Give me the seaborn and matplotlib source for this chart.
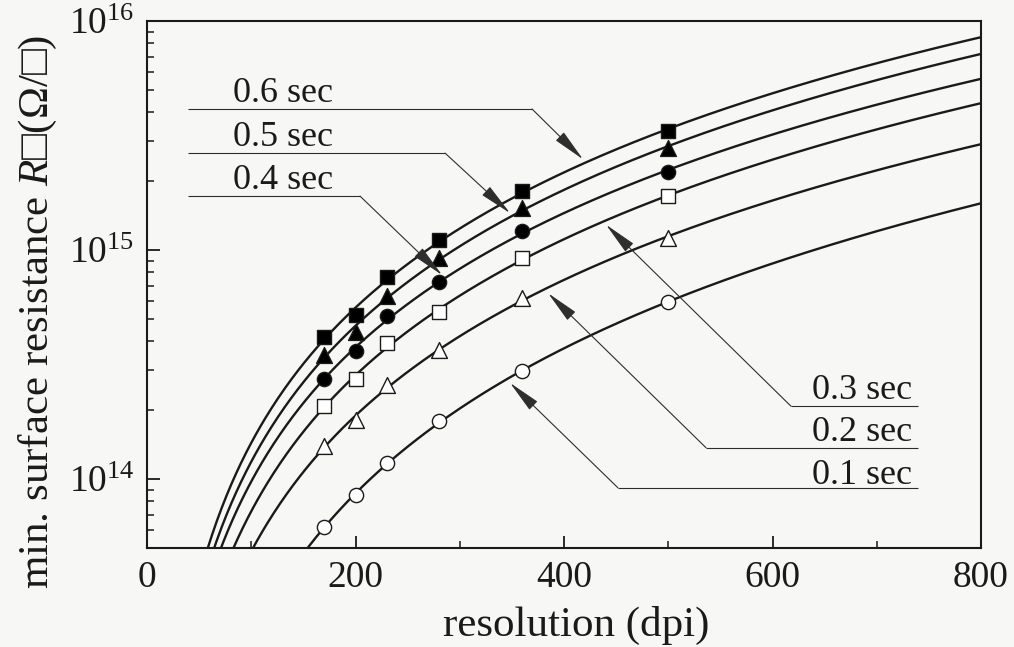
import numpy as np
import pandas as pd
import matplotlib
matplotlib.use("Agg")
import matplotlib.pyplot as plt
import seaborn as sns
from matplotlib.ticker import MultipleLocator, LogLocator, NullFormatter

# ---------------- data ----------------
resolution_dpi = [170, 200, 230, 280, 360, 500]
series_labels = ["0.6 sec", "0.5 sec", "0.4 sec", "0.3 sec", "0.2 sec", "0.1 sec"]
r_06 = [4.17e14, 5.20e14, 7.62e14, 1.11e15, 1.81e15, 3.31e15]
r_05 = [3.47e14, 4.38e14, 6.29e14, 9.23e14, 1.52e15, 2.79e15]
r_04 = [2.73e14, 3.62e14, 5.15e14, 7.25e14, 1.21e15, 2.19e15]
r_03 = [2.08e14, 2.73e14, 3.93e14, 5.36e14, 9.23e14, 1.72e15]
r_02 = [1.39e14, 1.81e14, 2.57e14, 3.66e14, 6.17e14, 1.13e15]
r_01 = [6.17e13, 8.51e13, 1.17e14, 1.79e14, 2.97e14, 5.93e14]
x_tick_values = [0, 200, 400, 600, 800]

series_values = [r_06, r_05, r_04, r_03, r_02, r_01]
marker_shapes = ["s", "^", "o", "s", "^", "o"]
marker_faces = ["black", "black", "black", "white", "white", "white"]
marker_sizes = [115, 130, 105, 115, 130, 105]

rows = []
for lab, vals in zip(series_labels, series_values):
    for x, v in zip(resolution_dpi, vals):
        rows.append({"series": lab, "resolution": x, "R": v})
df = pd.DataFrame(rows)

# ---------------- style ----------------
sns.set_style("ticks")
serif = ["Liberation Serif", "DejaVu Serif"]
plt.rcParams["font.family"] = serif
plt.rcParams["mathtext.fontset"] = "custom"
plt.rcParams["mathtext.rm"] = "Liberation Serif"
plt.rcParams["mathtext.it"] = "Liberation Serif:italic"
plt.rcParams["axes.linewidth"] = 1.5

bg = "#f7f7f5"
ink = "#1a1a1a"
fig = plt.figure(figsize=(10.14, 6.47), dpi=100, facecolor=bg)
ax = fig.add_axes([0.145, 0.153, 0.8225, 0.8145])
ax.set_facecolor(bg)
ax.set_yscale("log")

# fitted power-law curves (linear fit in log-log space of the markers)
xgrid = np.linspace(25, 800, 500)
for lab in series_labels:
    sub = df[df["series"] == lab]
    slope, icpt = np.polyfit(np.log10(sub["resolution"]), np.log10(sub["R"]), 1)
    yfit = 10 ** (icpt + slope * np.log10(xgrid))
    sns.lineplot(x=xgrid, y=yfit, ax=ax, color=ink, linewidth=1.7, zorder=2)

for lab, m, fc, s in zip(series_labels, marker_shapes, marker_faces, marker_sizes):
    sub = df[df["series"] == lab]
    sns.scatterplot(data=sub, x="resolution", y="R", ax=ax, marker=m, s=s,
                    color=fc, edgecolor=ink, linewidth=1.0, zorder=3, legend=False)

ax.set_xlim(0, 800)
ax.set_ylim(5e13, 1e16)

# ---------------- ticks ----------------
ax.set_xticks(x_tick_values)
ax.xaxis.set_minor_locator(MultipleLocator(100))
ax.yaxis.set_major_locator(LogLocator(base=10, numticks=10))
ax.yaxis.set_minor_locator(LogLocator(base=10, subs=np.arange(2, 10), numticks=20))
ax.yaxis.set_minor_formatter(NullFormatter())
ax.tick_params(which="both", direction="in", top=False, right=False, colors=ink)
ax.tick_params(which="major", length=9, width=1.3, labelsize=27, pad=9)
ax.tick_params(which="minor", length=5, width=1.1)
for sp in ax.spines.values():
    sp.set_color(ink)
    sp.set_linewidth(1.5)

ax.set_xlabel("resolution (dpi)", fontsize=31, color=ink)
ax.set_ylabel("min. surface resistance $R$\u25a1(\u03a9/\u25a1)", fontsize=31, color=ink)
ax.xaxis.set_label_coords(0.514, -0.11)
ax.yaxis.set_label_coords(-0.106, 0.449)

# ---------------- leader lines with arrows ----------------
lead = "#2e2e2e"
arrow_kw = dict(arrowstyle="-|>,head_length=1.15,head_width=0.2", color=lead,
                lw=0.8, shrinkA=0, shrinkB=0, mutation_scale=18)
# (line start x, corner x, line y, tip x, tip y, text x, text baseline y, ha)
leaders = [
    (39.3, 369.3, 4.13e15, 418.2, 2.49e15, 82.5, 10 ** 15.646, "left"),
    (39.3, 285.9, 2.65e15, 348.2, 1.45e15, 82.5, 10 ** 15.454, "left"),
    (39.3, 204.3, 1.72e15, 283.0, 7.78e14, 82.5, 10 ** 15.266, "left"),
    (739.6, 617.7, 2.08e14, 440.3, 1.29e15, 733.8, 10 ** 14.349, "right"),
    (739.6, 536.2, 1.37e14, 384.7, 6.48e14, 733.8, 10 ** 14.166, "right"),
    (739.6, 451.8, 9.15e13, 348.2, 2.63e14, 733.8, 10 ** 13.978, "right"),
]
for lab, (x0, xc, yl, xt, yt, tx, ty, ha) in zip(series_labels, leaders):
    ax.plot([x0, xc], [yl, yl], color=lead, lw=0.8, zorder=4, solid_capstyle="butt")
    ax.annotate("", xy=(xt, yt), xytext=(xc, yl), arrowprops=arrow_kw, zorder=5)
    ax.text(tx, ty, lab, ha=ha, va="baseline", fontsize=26, color=ink, zorder=5)

fig.savefig("out.png", dpi=100, facecolor=bg)
